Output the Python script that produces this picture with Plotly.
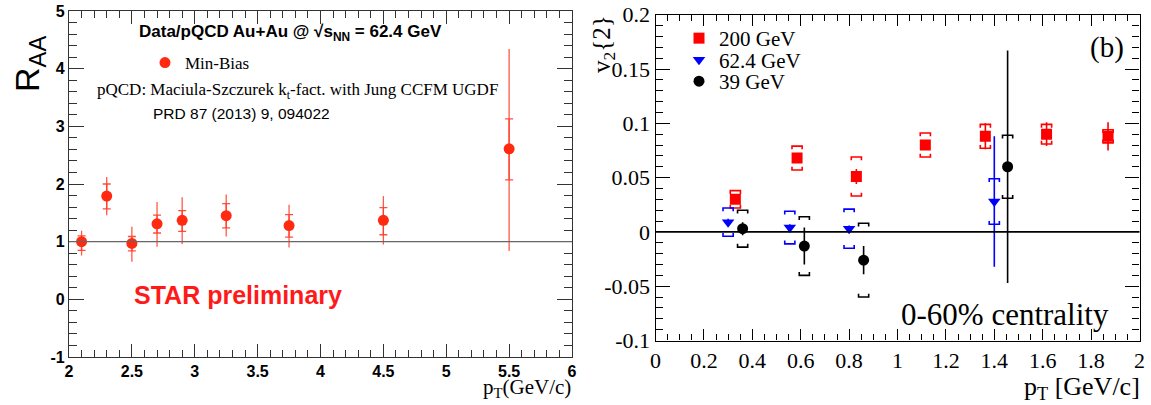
import plotly.graph_objects as go

W, H = 1151, 405

# ---------------- Left panel data (R_AA, Au+Au 62.4 GeV) ----------------
pt_raa = [2.1, 2.3, 2.5, 2.7, 2.9, 3.25, 3.75, 4.5, 5.5]
raa = [1.00, 1.79, 0.97, 1.31, 1.37, 1.45, 1.28, 1.37, 2.61]
raa_stat_hi = [0.10, 0.21, 0.12, 0.15, 0.17, 0.21, 0.19, 0.22, 0.52]
raa_stat_lo = [0.15, 0.22, 0.13, 0.16, 0.19, 0.21, 0.20, 0.25, 0.54]
raa_tot_hi = [0.19, 0.33, 0.29, 0.38, 0.40, 0.37, 0.36, 0.42, 1.73]
raa_tot_lo = [0.24, 0.33, 0.32, 0.40, 0.41, 0.36, 0.38, 0.42, 1.77]

left_xticks = [2, 2.5, 3, 3.5, 4, 4.5, 5, 5.5, 6]
left_xticktext = ["2", "2.5", "3", "3.5", "4", "4.5", "5", "5.5", "6"]
left_yticks = [-1, 0, 1, 2, 3, 4, 5]
left_yticktext = ["-1", "0", "1", "2", "3", "4", "5"]

# ---------------- Right panel data (v2{2}) ----------------
pt_200 = [0.33, 0.585, 0.83, 1.115, 1.363, 1.616, 1.87]
v2_200 = [0.030, 0.068, 0.051, 0.080, 0.088, 0.090, 0.088]
stat_200 = [0.003, 0.003, 0.007, 0.004, 0.012, 0.011, 0.013]
sys_200 = [0.008, 0.011, 0.018, 0.011, 0.011, 0.009, 0.006]

pt_62 = [0.30, 0.555, 0.80, 1.40]
v2_62 = [0.009, 0.004, 0.003, 0.028]
stat_62 = [0.003, 0.003, 0.003, 0.060]
sys_62 = [0.013, 0.015, 0.018, 0.021]

pt_39 = [0.36, 0.615, 0.86, 1.455]
v2_39 = [0.003, -0.013, -0.026, 0.060]
stat_39 = [0.006, 0.017, 0.013, 0.107]
sys_39 = [0.017, 0.027, 0.034, 0.029]

right_xticks = [0, 0.2, 0.4, 0.6, 0.8, 1, 1.2, 1.4, 1.6, 1.8, 2]
right_xticktext = ["0", "0.2", "0.4", "0.6", "0.8", "1", "1.2", "1.4", "1.6", "1.8", "2"]
right_yticks = [-0.1, -0.05, 0, 0.05, 0.1, 0.15, 0.2]
right_yticktext = ["-0.1", "-0.05", "0", "0.05", "0.1", "0.15", "0.2"]

SANS = "Liberation Sans, Arial, sans-serif"
SERIF = "Liberation Serif, Times New Roman, serif"
RED_L = "#ff2a10"


def px(x):
    return x / W


def py(y):
    return 1 - y / H


def brackets(xs, ys, sys, dx=0.021, dh=0.003):
    bx, by = [], []
    for x, y, s in zip(xs, ys, sys):
        top, bot = y + s, y - s
        bx += [x - dx, x - dx, x + dx, x + dx, None]
        by += [top - dh, top, top, top - dh, None]
        bx += [x - dx, x - dx, x + dx, x + dx, None]
        by += [bot + dh, bot, bot, bot + dh, None]
    return bx, by


fig = go.Figure()

# ---- Left panel traces ----
fig.add_trace(go.Scatter(
    x=pt_raa, y=raa, mode="markers", xaxis="x", yaxis="y",
    marker=dict(size=1, color="rgba(0,0,0,0)"), showlegend=False, hoverinfo="skip",
    error_y=dict(type="data", symmetric=False, array=raa_tot_hi, arrayminus=raa_tot_lo,
                 color="rgba(255,60,40,0.85)", thickness=1.3, width=0),
))
fig.add_trace(go.Scatter(
    x=pt_raa, y=raa, mode="markers", xaxis="x", yaxis="y", name="Min-Bias",
    legend="legend",
    marker=dict(size=11, color=RED_L, symbol="circle"),
    error_y=dict(type="data", symmetric=False, array=raa_stat_hi, arrayminus=raa_stat_lo,
                 color="rgba(255,60,40,0.9)", thickness=1.3, width=4),
))

# ---- Right panel traces ----
series = [
    ("200 GeV", pt_200, v2_200, stat_200, sys_200, "#ff0000", "square", 11, "legend2"),
    ("62.4 GeV", pt_62, v2_62, stat_62, sys_62, "#0000ff", "triangle-down", 11, "legend3"),
    ("39 GeV", pt_39, v2_39, stat_39, sys_39, "#000000", "circle", 11, "legend4"),
]
for name, xs, ys, st, sy, col, sym, sz, lg in series:
    bx, by = brackets(xs, ys, sy)
    fig.add_trace(go.Scatter(
        x=bx, y=by, mode="lines", xaxis="x2", yaxis="y2",
        line=dict(color=col, width=1.6), showlegend=False, hoverinfo="skip",
    ))
for name, xs, ys, st, sy, col, sym, sz, lg in series:
    fig.add_trace(go.Scatter(
        x=xs, y=ys, mode="markers", xaxis="x2", yaxis="y2", name=name,
        legend=lg,
        marker=dict(size=sz, color=col, symbol=sym),
        error_y=dict(type="data", array=st, color=col, thickness=1.6, width=0),
    ))

axis_common = dict(showgrid=False, zeroline=False, showline=True, linewidth=1.2,
                   ticks="inside", mirror="ticks", tickwidth=1.2, automargin=False,
                   ticklabeloverflow="allow")

leg_common = dict(xanchor="left", yanchor="middle", bgcolor="rgba(0,0,0,0)",
                  borderwidth=0)

fig.update_layout(
    width=W, height=H, margin=dict(l=0, r=0, t=0, b=0, autoexpand=False),
    paper_bgcolor="white", plot_bgcolor="white",
    xaxis=dict(domain=[px(69), px(572)], range=[2, 6], anchor="y",
               tickvals=left_xticks, ticktext=left_xticktext, ticklen=13,
               linecolor="#333333", tickcolor="#333333",
               tickfont=dict(family=SANS, size=16, color="black", weight="bold"),
               minor=dict(dtick=0.1, ticklen=7, ticks="inside", tickcolor="#333333", tickwidth=1),
               **axis_common),
    yaxis=dict(domain=[py(357), py(11)], range=[-1, 5], anchor="x",
               tickvals=left_yticks, ticktext=left_yticktext, ticklen=15,
               linecolor="#333333", tickcolor="#333333",
               tickfont=dict(family=SANS, size=16, color="black", weight="bold"),
               minor=dict(dtick=0.2, ticklen=8, ticks="inside", tickcolor="#333333", tickwidth=1),
               **axis_common),
    xaxis2=dict(domain=[px(655.5), px(1139.5)], range=[0, 2], anchor="y2",
                tickvals=right_xticks, ticktext=right_xticktext, ticklen=11,
                linecolor="black", tickcolor="black",
                tickfont=dict(family=SERIF, size=22, color="black"),
                minor=dict(dtick=0.05, ticklen=6, ticks="inside", tickcolor="black", tickwidth=1),
                **axis_common),
    yaxis2=dict(domain=[py(340.5), py(14.7)], range=[-0.1, 0.2], anchor="x2",
                tickvals=right_yticks, ticktext=right_yticktext, ticklen=14,
                linecolor="black", tickcolor="black",
                tickfont=dict(family=SERIF, size=22, color="black"),
                minor=dict(dtick=0.01, ticklen=7, ticks="inside", tickcolor="black", tickwidth=1),
                **axis_common),
    legend=dict(x=px(145), y=py(63), font=dict(family=SERIF, size=17, color="black"), **leg_common),
    legend2=dict(x=px(679), y=py(38.5), font=dict(family=SERIF, size=21, color="black"), **leg_common),
    legend3=dict(x=px(679), y=py(60), font=dict(family=SERIF, size=21, color="black"), **leg_common),
    legend4=dict(x=px(679), y=py(81.5), font=dict(family=SERIF, size=21, color="black"), **leg_common),
    shapes=[
        dict(type="line", xref="x domain", yref="y", x0=0, x1=1, y0=1, y1=1,
             line=dict(color="#666666", width=1.3)),
        dict(type="line", xref="x2 domain", yref="y2", x0=0, x1=1, y0=0, y1=0,
             line=dict(color="black", width=1.6)),
    ],
)

annotations = [
    dict(x=px(30), y=py(64), text="R<sub>AA</sub>", textangle=-90,
         font=dict(family=SANS, size=34, color="black")),
    dict(x=px(290), y=py(33), text="Data/pQCD Au+Au @ √s<sub>NN</sub> = 62.4 GeV",
         font=dict(family=SANS, size=17, color="black", weight="bold")),
    dict(x=px(297), y=py(91), text="pQCD: Maciula-Szczurek k<sub>t</sub>-fact. with Jung CCFM UGDF",
         font=dict(family=SERIF, size=17, color="black")),
    dict(x=px(241), y=py(113), text="PRD 87 (2013) 9, 094022",
         font=dict(family=SANS, size=15.5, color="black")),
    dict(x=px(238), y=py(295), text="STAR preliminary",
         font=dict(family=SANS, size=25, color="#ff1a1a", weight="bold")),
    dict(x=px(573), y=py(388), text="p<sub>T</sub>(GeV/c)", xanchor="right",
         font=dict(family=SERIF, size=21, color="black")),
    dict(x=px(604), y=py(44), text="v<sub>2</sub>{2}", textangle=-90,
         font=dict(family=SERIF, size=25, color="black")),
    dict(x=px(1107), y=py(48), text="(b)",
         font=dict(family=SERIF, size=29, color="black")),
    dict(x=px(1005), y=py(314), text="0-60% centrality",
         font=dict(family=SERIF, size=31, color="black")),
    dict(x=px(1142), y=py(388), text="p<sub>T</sub> [GeV/c]", xanchor="right",
         font=dict(family=SERIF, size=26, color="black")),
]
for a in annotations:
    a.setdefault("xanchor", "center")
    a.update(xref="paper", yref="paper", showarrow=False, yanchor="middle")
fig.update_layout(annotations=annotations)

fig.write_html("out.html", config={"displayModeBar": False},
               post_script="document.body.style.margin='0px';")
